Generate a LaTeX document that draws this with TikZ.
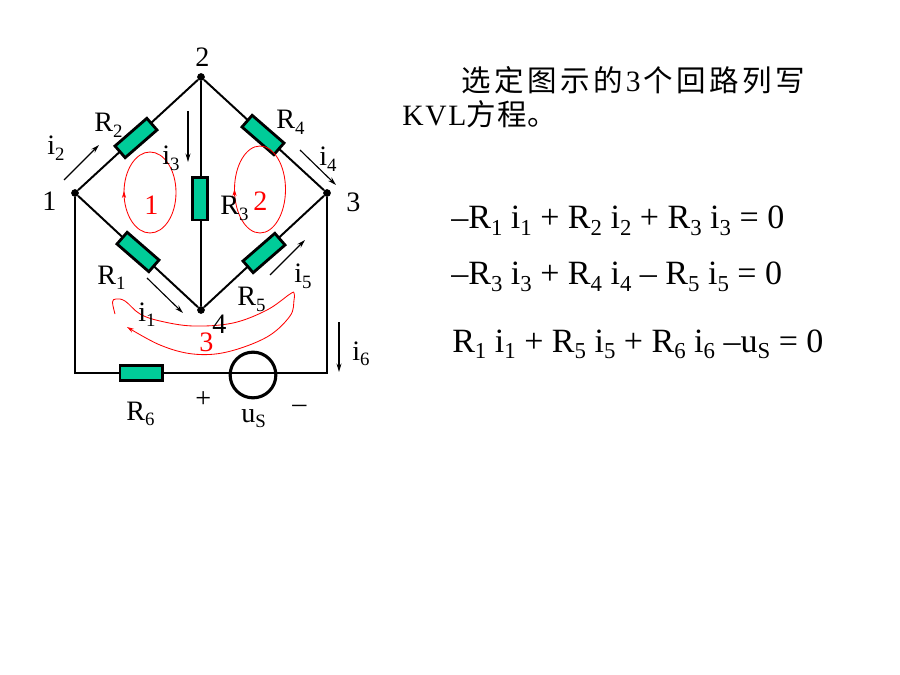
\documentclass[tikz,border=0pt]{standalone}
\usepackage{fontspec}
\setmainfont{Liberation Serif}
\newfontfamily\cjk[LetterSpace=12]{Noto Sans CJK SC}
\usetikzlibrary{arrows.meta}
\definecolor{resgreen}{HTML}{00CC99}
\newcommand{\lowsub}[1]{\raisebox{-0.2em}{\fontsize{0.67em}{1em}\selectfont #1}}
\tikzset{
  wire/.style = {line width = 1.4pt},
  junction/.style = {circle, fill = black, inner sep = 0pt, minimum size = 5.5pt},
  resistor/.style = {draw, line width = 2pt, fill = resgreen, inner sep = 0pt, minimum width = 30pt, minimum height = 11pt},
  source/.style = {draw, circle, line width = 2.2pt, inner sep = 0pt, minimum size = 32.5pt},
  lab/.style = {anchor = base west, inner sep = 0pt, font = \fontsize{20}{24}\selectfont},
  redlab/.style = {lab, text = red},
  headline/.style = {anchor = base west, inner sep = 0pt, font = \fontsize{21}{25}\selectfont},
  eqn/.style = {anchor = base west, inner sep = 0pt, font = \fontsize{24.2}{29}\selectfont},
  current/.style = {line width = 0.8pt, -{Stealth[length = 6pt, width = 3.5pt]}},
  loopline/.style = {red, line width = 0.6pt},
  looptip/.style = {red, line width = 0.6pt, -{Stealth[length = 5pt, width = 3pt]}}
}
\begin{document}
\begin{tikzpicture}[x = 0.025cm, y = -0.025cm]
\useasboundingbox (0, 0) rectangle (900, 675);
% junctions and corners
\node[junction] (n1) at (75, 193) {};
\node[junction] (n2) at (201, 77) {};
\node[junction] (n3) at (327, 193) {};
\node[junction] (n4) at (201, 310) {};
\coordinate (c1) at (75, 373);
\coordinate (c3) at (327, 373);
% wires
\draw[wire] (n1) -- (n2);
\draw[wire] (n2) -- (n3);
\draw[wire] (n2) -- (n4);
\draw[wire] (n1) -- (n4);
\draw[wire] (n3) -- (n4);
\draw[wire] (n1) -- (c1) -- (c3) -- (n3);
% elements
\node[resistor, rotate = 41] (R2) at (136, 138) {};
\node[resistor, rotate = 90] (R3) at (200, 199) {};
\node[resistor, rotate = -41] (R4) at (263, 135) {};
\node[resistor, rotate = -41] (R1) at (138, 252) {};
\node[resistor, rotate = 41] (R5) at (264, 253) {};
\node[resistor] (R6) at (141, 373) {};
\node[source] (us) at (253, 375) {};
% current arrows
\coordinate (i2a) at (64, 180);
\coordinate (i2b) at (99, 145);
\coordinate (i3a) at (188, 111);
\coordinate (i3b) at (188, 162);
\coordinate (i4a) at (300, 150);
\coordinate (i4b) at (336, 185);
\coordinate (i1a) at (147, 278);
\coordinate (i1b) at (183, 313);
\coordinate (i5a) at (270, 275);
\coordinate (i5b) at (305, 240);
\coordinate (i6a) at (339, 322);
\coordinate (i6b) at (339, 372);
\draw[current] (i2a) -- (i2b);
\draw[current] (i3a) -- (i3b);
\draw[current] (i4a) -- (i4b);
\draw[current] (i1a) -- (i1b);
\draw[current] (i5a) -- (i5b);
\draw[current] (i6a) -- (i6b);
% loops
\draw[loopline] (150, 192.5) ellipse [x radius = 26, y radius = 40.5];
\draw[looptip] (124, 197) -- (124, 191);
\draw[loopline] (260, 189.5) ellipse [x radius = 25.5, y radius = 43.5];
\draw[looptip] (234.5, 196) -- (234.5, 189);
\draw[looptip] plot[smooth, tension = 0.6] coordinates {(115, 314) (112.5, 302) (116, 299) (125, 301) (140, 314) (160, 321) (193, 326) (233, 323) (267, 310) (290, 294) (294, 293) (294, 300) (290, 316) (267, 337) (227, 352) (193, 354) (160, 345) (127, 327)};
% labels
\node[lab] (l1) at (42, 211) {1};
\node[lab] (l2) at (195, 67) {2};
\node[lab] (l3) at (346, 212) {3};
\node[lab] (l4) at (212, 333) {4};
\node[redlab] (loop1) at (144, 215) {1};
\node[redlab] (loop2) at (253, 211) {2};
\node[redlab] (loop3) at (199, 351) {3};
\node[lab] (tR1) at (97, 284) {R\lowsub{1}};
\node[lab] (tR2) at (94, 132) {R\lowsub{2}};
\node[lab] (tR3) at (220, 215) {R\lowsub{3}};
\node[lab] (tR4) at (276, 129) {R\lowsub{4}};
\node[lab] (tR5) at (237, 306) {R\lowsub{5}};
\node[lab] (tR6) at (126, 420) {R\lowsub{6}};
\node[lab] (ti1) at (138, 321) {i\lowsub{1}};
\node[lab] (ti2) at (47, 155) {i\lowsub{2}};
\node[lab] (ti3) at (162, 165) {i\lowsub{3}};
\node[lab] (ti4) at (319, 166) {i\lowsub{4}};
\node[lab] (ti5) at (294, 283) {i\lowsub{5}};
\node[lab] (ti6) at (352, 360) {i\lowsub{6}};
\node[lab] (tplus) at (195, 407) {+};
\node[lab] (tminus) at (292, 412) {–};
\node[lab] (tus) at (241, 422) {u\lowsub{S}};
% text
\node[headline] (title1) at (461, 92) {\cjk 选定图示的\rmfamily\kern2pt 3\kern2pt\cjk 个回路列写};
\node[headline] (title2) at (402, 126) {\addfontfeature{LetterSpace=6}KVL\cjk\addfontfeature{LetterSpace=4}方程。};
\node[eqn] (eq1) at (451, 229) {–R\lowsub{1} i\lowsub{1} + R\lowsub{2} i\lowsub{2} + R\lowsub{3} i\lowsub{3} = 0};
\node[eqn] (eq2) at (451, 285) {–R\lowsub{3} i\lowsub{3} + R\lowsub{4} i\lowsub{4} – R\lowsub{5} i\lowsub{5} = 0};
\node[eqn] (eq3) at (452, 352) {R\lowsub{1} i\lowsub{1} + R\lowsub{5} i\lowsub{5} + R\lowsub{6} i\lowsub{6} –u\lowsub{S} = 0};
\end{tikzpicture}
\end{document}
